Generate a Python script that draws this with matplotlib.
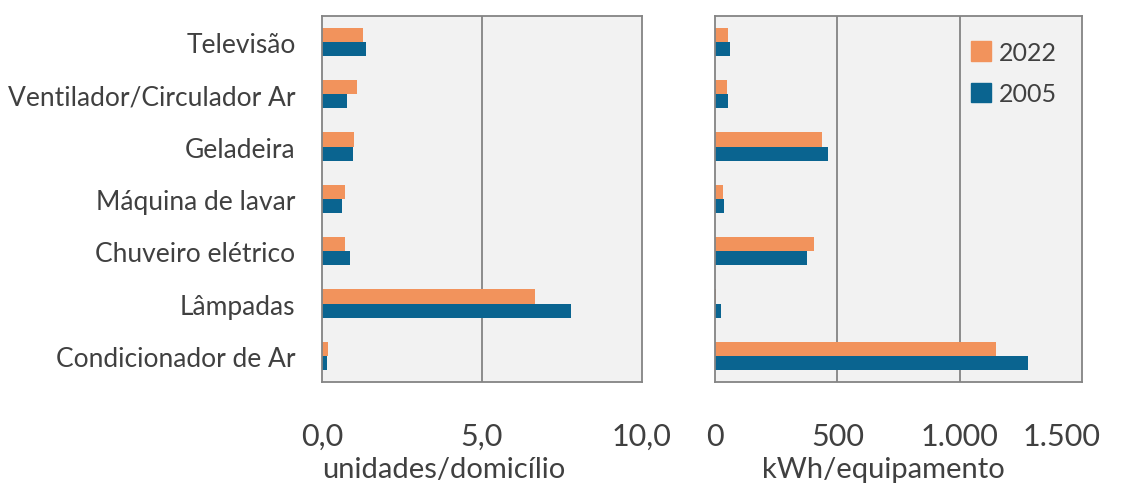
import matplotlib
matplotlib.use("Agg")
import matplotlib.pyplot as plt
import matplotlib.transforms as mtransforms
from matplotlib.patches import Patch
import numpy as np

categories = ["Televisão", "Ventilador/Circulador Ar", "Geladeira", "Máquina de lavar",
              "Chuveiro elétrico", "Lâmpadas", "Condicionador de Ar"]
units_2022 = [1.27, 1.08, 1.00, 0.72, 0.72, 6.65, 0.20]
units_2005 = [1.37, 0.78, 0.96, 0.64, 0.87, 7.78, 0.17]
kwh_2022 = [55, 50, 436, 31, 406, 3, 1150]
kwh_2005 = [61, 52, 461, 37, 378, 23, 1278]
left_ticks = [0, 5, 10]
left_ticklabels = ["0,0", "5,0", "10,0"]
right_ticks = [0, 500, 1000, 1500]
right_ticklabels = ["0", "500", "1.000", "1.500"]
series_names = ["2022", "2005"]
left_title = "unidades/domicílio"
right_title = "kWh/equipamento"

C22 = "#F2935C"
C05 = "#0A6490"
TXT = "#404040"
GRID = "#848484"
FONT = ["Lato", "DejaVu Sans"]
plt.rcParams["font.family"] = FONT

W, H = 1128, 489
fig = plt.figure(figsize=(W / 100, H / 100), dpi=100)
fig.patch.set_facecolor("white")

top_px, bot_px = 16.7, 383.0
axL = fig.add_axes([322 / W, 1 - bot_px / H, (642 - 322) / W, (bot_px - top_px) / H])
axR = fig.add_axes([715 / W, 1 - bot_px / H, (1082 - 715) / W, (bot_px - top_px) / H])

y = np.arange(len(categories))
bh = 0.27

for ax, v22, v05, ticks, tlabels, xmax in [
    (axL, units_2022, units_2005, left_ticks, left_ticklabels, 10),
    (axR, kwh_2022, kwh_2005, right_ticks, right_ticklabels, 1500),
]:
    ax.set_facecolor("#F2F2F2")
    ax.barh(y - bh / 2, v22, height=bh, color=C22, zorder=2)
    ax.barh(y + bh / 2, v05, height=bh, color=C05, zorder=2)
    ax.set_xlim(0, xmax)
    ax.set_ylim(len(categories) - 0.5, -0.5)
    ax.set_xticks(ticks)
    ax.set_xticklabels(tlabels)
    for t in ticks[1:-1]:
        ax.axvline(t, color=GRID, lw=1.3, zorder=1)
    for s in ax.spines.values():
        s.set_color(GRID)
        s.set_linewidth(1.3)
    ax.tick_params(axis="x", length=0, pad=29, labelsize=22, labelcolor=TXT)
    ax.tick_params(axis="y", length=0)

axL.set_yticks(y)
axL.set_yticklabels(categories)
axL.tick_params(axis="y", pad=19, labelsize=19, labelcolor=TXT)
axR.set_yticks([])

# shift last right tick label inward (as in the reference)
lbl = axR.xaxis.get_major_ticks()[-1].label1
lbl.set_transform(lbl.get_transform() + mtransforms.ScaledTranslation(-0.20, 0, fig.dpi_scale_trans))

fig.text(444 / W, 1 - 478 / H, left_title, ha="center", va="baseline", fontsize=21, color=TXT)
fig.text(883 / W, 1 - 478 / H, right_title, ha="center", va="baseline", fontsize=21, color=TXT)

handles = [Patch(color=C22), Patch(color=C05)]
axR.legend(handles, series_names, loc="upper right", bbox_to_anchor=(1.0, 1.0),
           frameon=False, fontsize=18, labelcolor=TXT, handlelength=0.8, handleheight=0.8,
           handletextpad=0.3, labelspacing=0.74, borderaxespad=0.6)

fig.savefig("out.png", dpi=100)
